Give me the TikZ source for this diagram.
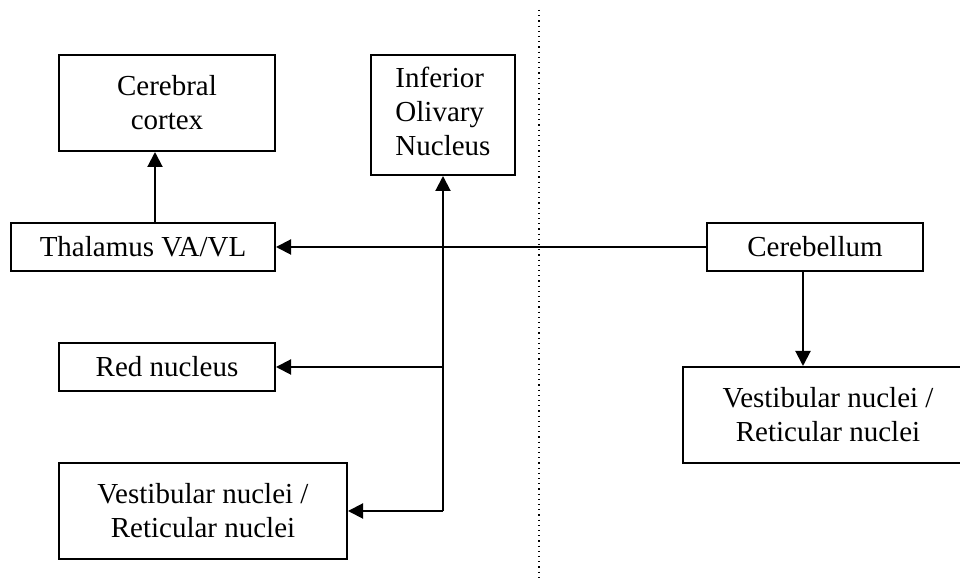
\documentclass[tikz,border=0pt]{standalone}
\usepackage{fontspec}
\setmainfont{Liberation Serif}
\usetikzlibrary{arrows.meta}

\tikzset{
  boxnode/.style={draw, line width=1pt, inner sep=0pt, align=center,
    font=\fontsize{14.5}{17}\selectfont},
  arr/.style={line width=1pt, -{Triangle[length=7.5pt,width=7.5pt]}}
}

\begin{document}
\begin{tikzpicture}[x=0.5pt, y=-0.5pt]
		\useasboundingbox (0,0) rectangle (960,581);

		% dotted divider
		\draw[line width=0.6pt, dotted] (539,10) -- (539,585);

		% left side boxes
		\node[boxnode, minimum width=108pt, minimum height=48pt] (cortex) at (167,103) {Cerebral\\cortex};
		\node[boxnode, minimum width=72pt, minimum height=60pt] (olive) at (443,115)
		{\begin{tabular}{@{}l@{}}Inferior\\Olivary\\Nucleus\end{tabular}};
		\node[boxnode, minimum width=132pt, minimum height=24pt] (thal) at (143,247) {Thalamus VA/VL};
		\node[boxnode, minimum width=108pt, minimum height=24pt] (red) at (167,367) {Red nucleus};
		\node[boxnode, minimum width=144pt, minimum height=48pt] (vestL) at (203,511) {Vestibular nuclei /\\Reticular nuclei};

		% right side boxes
		\node[boxnode, minimum width=108pt, minimum height=24pt] (cereb) at (815,247) {Cerebellum};
		\node[boxnode, minimum width=145pt, minimum height=48pt] (vestR) at (828,415) {Vestibular nuclei /\\Reticular nuclei};

		% connectors
		\coordinate (jn) at (443,511);
		\draw[arr] ([xshift=6pt]thal.north) -- ([xshift=6pt]thal.north |- cortex.south);
		\draw[arr] (cereb.west) -- (thal.east);
		\draw[line width=1pt] (jn) -- (olive.south |- red.east);
		\draw[arr] (olive.south |- red.east) -- (olive.south);
		\draw[arr] (olive.south |- red.east) -- (red.east);
		\draw[arr] (jn) -- (vestL.east);
		\draw[arr] ([xshift=-6pt]cereb.south) -- ([xshift=-6pt]cereb.south |- vestR.north);
	\end{tikzpicture}
\end{document}
